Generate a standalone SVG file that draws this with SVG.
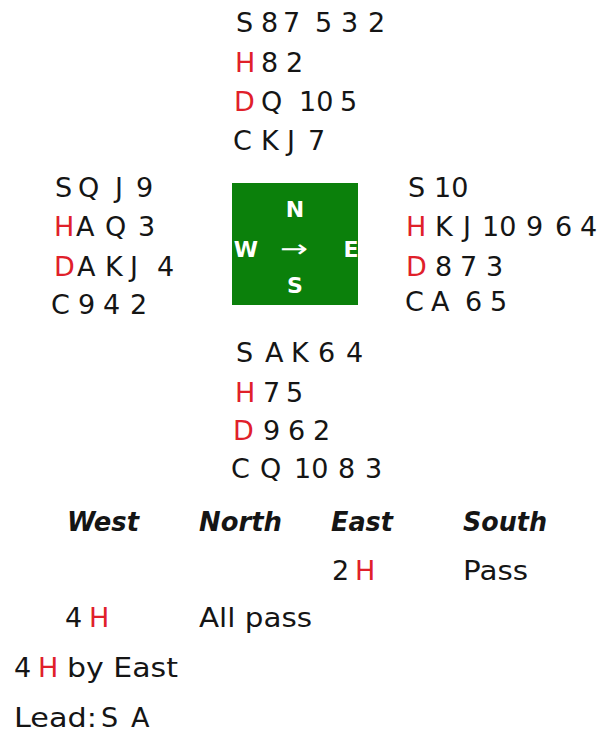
<svg xmlns="http://www.w3.org/2000/svg" width="605" height="733" viewBox="0 0 605 733">
<style>
text{font-family:"DejaVu Sans","Liberation Sans",sans-serif;font-size:27px;fill:#151515}
.r{fill:#e0202a}
.h{font-weight:bold;font-style:italic}
.c{font-weight:bold;font-size:22px;fill:#fff;text-anchor:middle}
</style>
<rect width="605" height="733" fill="#fff"/>
<g id="north">
<text y="32"><tspan x="236">S</tspan><tspan x="261">8</tspan><tspan x="283">7</tspan><tspan x="315">5</tspan><tspan x="341">3</tspan><tspan x="368">2</tspan></text>
<text y="72"><tspan x="235" class="r">H</tspan><tspan x="261">8</tspan><tspan x="286">2</tspan></text>
<text y="111"><tspan x="234" class="r">D</tspan><tspan x="261">Q</tspan><tspan x="299">10</tspan><tspan x="340">5</tspan></text>
<text y="150"><tspan x="233">C</tspan><tspan x="261">K</tspan><tspan x="287">J</tspan><tspan x="308">7</tspan></text>
</g>
<g id="west">
<text y="197"><tspan x="55">S</tspan><tspan x="78">Q</tspan><tspan x="115">J</tspan><tspan x="136">9</tspan></text>
<text y="236"><tspan x="54" class="r">H</tspan><tspan x="76">A</tspan><tspan x="105">Q</tspan><tspan x="138">3</tspan></text>
<text y="276"><tspan x="54" class="r">D</tspan><tspan x="77">A</tspan><tspan x="105">K</tspan><tspan x="130">J</tspan><tspan x="157">4</tspan></text>
<text y="314"><tspan x="51">C</tspan><tspan x="78">9</tspan><tspan x="103">4</tspan><tspan x="130">2</tspan></text>
</g>
<g id="table">
<rect x="232" y="183" width="126" height="122" fill="#0b800b"/>
<text class="c" x="295" y="217">N</text>
<text class="c" x="246" y="257">W</text>
<text class="c" x="351" y="257">E</text>
<text class="c" x="295" y="293">S</text>
<text x="294" y="257" style="fill:#fff;font-size:24px;text-anchor:middle" textLength="28" lengthAdjust="spacingAndGlyphs">→</text>
</g>
<g id="east">
<text y="197"><tspan x="408">S</tspan><tspan x="434">10</tspan></text>
<text y="236"><tspan x="406" class="r">H</tspan><tspan x="435">K</tspan><tspan x="463">J</tspan><tspan x="482">10</tspan><tspan x="526">9</tspan><tspan x="555">6</tspan><tspan x="580">4</tspan></text>
<text y="276"><tspan x="406" class="r">D</tspan><tspan x="435">8</tspan><tspan x="460">7</tspan><tspan x="486">3</tspan></text>
<text y="311"><tspan x="405">C</tspan><tspan x="431">A</tspan><tspan x="465">6</tspan><tspan x="490">5</tspan></text>
</g>
<g id="south">
<text y="362"><tspan x="236">S</tspan><tspan x="265">A</tspan><tspan x="291">K</tspan><tspan x="318">6</tspan><tspan x="346">4</tspan></text>
<text y="402"><tspan x="235" class="r">H</tspan><tspan x="263">7</tspan><tspan x="286">5</tspan></text>
<text y="440"><tspan x="233" class="r">D</tspan><tspan x="263">9</tspan><tspan x="288">6</tspan><tspan x="313">2</tspan></text>
<text y="478"><tspan x="231">C</tspan><tspan x="260">Q</tspan><tspan x="294">10</tspan><tspan x="338">8</tspan><tspan x="365">3</tspan></text>
</g>
<g id="auction">
<text class="h" x="67" y="531" textLength="72" lengthAdjust="spacingAndGlyphs">West</text>
<text class="h" x="199" y="531" textLength="83" lengthAdjust="spacingAndGlyphs">North</text>
<text class="h" x="331" y="531" textLength="62" lengthAdjust="spacingAndGlyphs">East</text>
<text class="h" x="463" y="531" textLength="84" lengthAdjust="spacingAndGlyphs">South</text>
<text y="580"><tspan x="332">2</tspan><tspan x="355" class="r">H</tspan></text>
<text x="463" y="580" textLength="65" lengthAdjust="spacingAndGlyphs">Pass</text>
<text y="627"><tspan x="65">4</tspan><tspan x="89" class="r">H</tspan></text>
<text x="199" y="627" textLength="113" lengthAdjust="spacingAndGlyphs">All pass</text>
</g>
<g id="contract">
<text y="677"><tspan x="14">4</tspan><tspan x="38" class="r">H</tspan></text>
<text x="67" y="677" textLength="111" lengthAdjust="spacingAndGlyphs">by East</text>
<text y="727"><tspan x="14" textLength="83" lengthAdjust="spacingAndGlyphs">Lead:</tspan><tspan x="101">S</tspan><tspan x="131">A</tspan></text>
</g>
</svg>
